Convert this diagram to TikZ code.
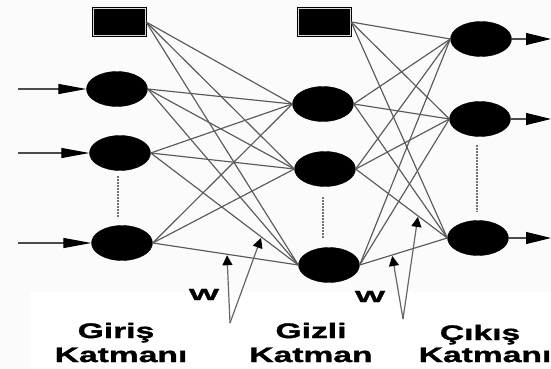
\documentclass[tikz,border=0pt]{standalone}
\usepackage{fontspec}
\newfontfamily\lblfont{Liberation Sans}[FakeStretch=1.6, FakeBold=1.6]
\newfontfamily\wfont{Liberation Sans}[FakeStretch=2.0, FakeBold=2]
\usetikzlibrary{arrows.meta,shapes.geometric}
\begin{document}
\begin{tikzpicture}[x=1pt,y=-1pt,
  neuron/.style={ellipse, fill=black, draw=black, minimum width=61pt, minimum height=35pt, inner sep=0pt},
  biasbox/.style={rectangle, fill=black, draw=black, line width=1.3pt, double=gray!30, double distance=1pt, minimum width=52pt, minimum height=27pt, inner sep=0pt},
  conn/.style={draw=black!65, line width=1.15pt},
  inarrow/.style={draw=black!70, line width=1.1pt, -{Triangle[length=28pt,width=10pt,color=black]}},
  outarrow/.style={draw=black!70, line width=1.1pt, -{Triangle[length=25pt,width=12pt,color=black]}},
  warrow/.style={draw=black!60, line width=1.2pt, -{Triangle[length=10pt,width=10pt,color=black]}, shorten >=1pt},
  dots/.style={draw=black!55, line width=2pt, dash pattern=on 1.6pt off 1.4pt},
  lbl/.style={font=\lblfont\bfseries\fontsize{21}{24}\selectfont, anchor=base, inner sep=0pt},
  wlbl/.style={font=\wfont\bfseries\fontsize{16}{18}\selectfont, anchor=base, inner sep=0pt}
]
\clip (0,0) rectangle (551,369);
\fill[gray!3] (0,0) rectangle (551,369);
\fill[white] (30,292) rectangle (551,369);

% bias boxes
\node[biasbox] (b1) at (119.5,22) {};
\node[biasbox] (b2) at (324.5,22) {};

% input layer
\node[neuron] (i1) at (117,89) {};
\node[neuron] (i2) at (120,153) {};
\node[neuron] (i3) at (122,243) {};

% hidden layer
\node[neuron] (h1) at (323,104) {};
\node[neuron] (h2) at (325,169) {};
\node[neuron] (h3) at (329,265) {};

% output layer
\node[neuron] (o1) at (481,39) {};
\node[neuron] (o2) at (480,119) {};
\node[neuron] (o3) at (478,238) {};

% connections
\foreach \s in {b1,i1,i2,i3}
  \foreach \t in {h1,h2,h3}
    \draw[conn] (\s.east) -- (\t.west);
\foreach \s in {b2,h1,h2,h3}
  \foreach \t in {o1,o2,o3}
    \draw[conn] (\s.east) -- (\t.west);

% input arrows
\coordinate (in1) at (18,89);
\coordinate (in2) at (18,153);
\coordinate (in3) at (18,243);
\draw[inarrow] (in1) -- (i1.west);
\draw[inarrow] (in2) -- (i2.west);
\draw[inarrow] (in3) -- (i3.west);

% output arrows
\coordinate (out1) at (551,39);
\coordinate (out2) at (551,119);
\coordinate (out3) at (551,238);
\draw[outarrow] (o1.east) -- (out1);
\draw[outarrow] (o2.east) -- (out2);
\draw[outarrow] (o3.east) -- (out3);

% dotted lines
\coordinate (d1a) at (118,176); \coordinate (d1b) at (118,218);
\coordinate (d2a) at (323,197); \coordinate (d2b) at (323,238);
\coordinate (d3a) at (477,145); \coordinate (d3b) at (477,212);
\draw[dots] (d1a) -- (d1b);
\draw[dots] (d2a) -- (d2b);
\draw[dots] (d3a) -- (d3b);

% weight pointers
\path (i3.east) -- (h3.west) coordinate[pos=0.51] (wa1);
\path (i2.east) -- (h3.west) coordinate[pos=0.75] (wa2);
\coordinate (wb1) at (230,323);
\draw[warrow] (wb1) -- (wa1);
\draw[warrow] (wb1) -- (wa2);

\path (h3.east) -- (o3.west) coordinate[pos=0.37] (wc1);
\path (h2.east) -- (o3.west) coordinate[pos=0.68] (wc2);
\coordinate (wb2) at (403,319);
\draw[warrow] (wb2) -- (wc1);
\draw[warrow] (wb2) -- (wc2);

\node[wlbl] (w1) at (204,300) {W};
\node[wlbl] (w2) at (370,302) {W};

% layer labels
\node[lbl] (l1a) at (116,338) {Giriş};
\node[lbl] (l1b) at (121,362) {Katmanı};
\node[lbl] (l2a) at (311,338) {Gizli};
\node[lbl] (l2b) at (311,362) {Katman};
\node[lbl] (l3a) at (480,340) {Çıkış};
\node[lbl] (l3b) at (485,362) {Katmanı};
\end{tikzpicture}
\end{document}
